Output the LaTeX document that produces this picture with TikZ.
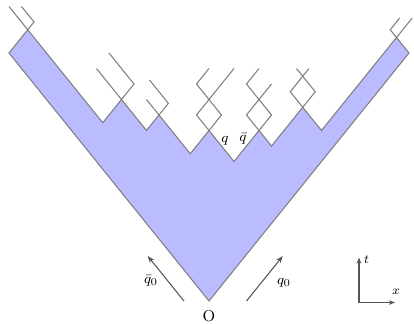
\documentclass[tikz,border=0pt]{standalone}
\usepackage{amsmath}
\usepackage{xcolor}
\usetikzlibrary{arrows.meta}
\definecolor{conefill}{HTML}{BBBBFF}
\definecolor{coneline}{HTML}{7F7F7F}
\definecolor{axisink}{HTML}{555555}

\begin{document}
\begin{tikzpicture}[
  x={(0.125cm,0.155cm)},
  y={(-0.125cm,0.155cm)},
  every node/.style={font=\footnotesize, black},
  cone/.style={fill=conefill, draw=coneline, line width=0.6pt},
  parton/.style={coneline, line width=0.6pt},
  flow/.style={axisink, line width=0.6pt, -{Stealth[length=4pt]}},
  frame/.style={axisink, line width=0.6pt, -{Stealth[length=3.5pt]}}
]
  \useasboundingbox (-4.18cm,-0.44cm) rectangle (4.1cm,6.02cm);

  %% ---- 弦所掃過的區域 (光錐座標 a, b) ---------------------------------
  \draw[cone] (0,0) -- (0,32) -- (3,32) -- (3,20) -- (6,20) -- (6,16)
    -- (8,16) -- (8,11) -- (11,11) -- (11,7) -- (15,7) -- (15,5)
    -- (20,5) -- (20,2) -- (32,2) -- (32,0) -- cycle;

  %% ---- 斷點之上的夸克世界線 -------------------------------------------
  \draw[parton] (3,32) -- (3,35);
  \draw[parton] (3,32) -- (4,32) -- (4,34);
  \draw[parton] (6,20) -- (6,24);
  \draw[parton] (6,20) -- (8,20) -- (8,24);
  \draw[parton] (8,16) -- (8,18);
  \draw[parton] (8,16) -- (9.5,16) -- (9.5,19);
  \draw[parton] (11,11) -- (11,13) -- (17,13);
  \draw[parton] (11,11) -- (13,11) -- (13,15) -- (15,15);
  \draw[parton] (15,7) -- (15,9) -- (19,9);
  \draw[parton] (15,7) -- (17,7) -- (17,11) -- (19,11);
  \draw[parton] (20,5) -- (20,7) -- (23,7);
  \draw[parton] (20,5) -- (22,5) -- (22,8);
  \draw[parton] (32,2) -- (32,3) -- (33.5,3);
  \draw[parton] (32,2) -- (34.5,2);

  \node (q)    at (0.32cm,3.21cm) {$q$};
  \node (qbar) at (0.68cm,3.24cm) {$\bar{q}$};

  %% ---- 原點與初始夸克 -------------------------------------------------
  \node[font=\small] (origin) at (0cm,-0.3cm) {O};

  \coordinate (qbtail) at (-2,2);
  \coordinate (qbhead) at (-2,7.8);
  \draw[flow] (qbtail) -- (qbhead);
  \node (qbzero) at (-1.16cm,0.4cm) {$\bar{q}_0$};

  \coordinate (qtail) at (3,-3);
  \coordinate (qhead) at (8.8,-3);
  \draw[flow] (qtail) -- (qhead);
  \node (qzero) at (1.5cm,0.36cm) {$q_0$};

  %% ---- 右下角的 t-x 座標軸 --------------------------------------------
  \coordinate (corner) at (3.0cm,-0.03cm);
  \coordinate (tend) at (3.0cm,0.87cm);
  \coordinate (xend) at (3.72cm,-0.03cm);
  \draw[frame] (corner) -- (tend);
  \draw[frame] (corner) -- (xend);
  \node[font=\scriptsize] (tlabel) at (3.15cm,0.82cm) {$t$};
  \node[font=\scriptsize] (xlabel) at (3.74cm,0.19cm) {$x$};

\end{tikzpicture}
\end{document}
